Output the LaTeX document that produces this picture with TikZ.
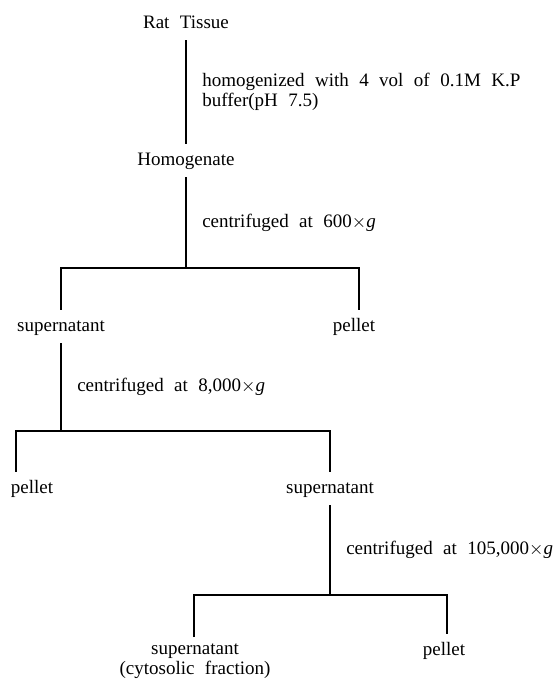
\documentclass[tikz,border=0pt]{standalone}
\usepackage{fontspec}
\setmainfont{Liberation Serif}[WordSpace=2.2]

\begin{document}
\begin{tikzpicture}[x=0.5pt, y=-0.5pt, line width=0.6pt,
    every node/.style={font=\fontsize{9.5}{11}\selectfont},
    stage/.style={anchor=base, text height=0.7em, text depth=0.25em},
    steplabel/.style={anchor=west, xshift=4.5pt, align=left}]

\useasboundingbox (0,0) rectangle (559,687);

% --- 1. STAGES (fractions) ---
\node[stage] (rat)   at (186,28)  {Rat Tissue};
\node[stage] (homog) at (186,165) {Homogenate};

\node[stage] (sup_a) at (61,331)  {supernatant};
\node[stage] (pel_a) at (354,331) {pellet};

\node[stage] (pel_b) at (32,493)  {pellet};
\node[stage] (sup_b) at (330,493) {supernatant};

\node[anchor=north, align=center, font=\fontsize{9.5}{10}\selectfont] (sup_c) at (195,637)
    {supernatant\\(cytosolic fraction)};
\node[stage] (pel_c) at (444,655) {pellet};

% --- 2. SPLIT BARS ---
\coordinate (stem_a)      at (186,268);
\coordinate (bar_a_left)  at (61,268);
\coordinate (bar_a_right) at (359,268);

\coordinate (stem_b)      at (61,431);
\coordinate (bar_b_left)  at (16,431);
\coordinate (bar_b_right) at (330,431);

\coordinate (stem_c)      at (330,595);
\coordinate (bar_c_left)  at (194,595);
\coordinate (bar_c_right) at (447,595);

% --- 3. PROCESSING STEPS ---
\draw (rat) -- node[steplabel, font=\fontsize{9.5}{10}\selectfont]
    {homogenized with 4 vol of 0.1M K.P\\buffer(pH 7.5)} (homog);

\draw (homog) -- node[steplabel] {centrifuged at 600$\times$\textit{g}} (stem_a);
\draw (sup_a) -- node[steplabel] {centrifuged at 8,000$\times$\textit{g}} (stem_b);
\draw (sup_b) -- node[steplabel] {centrifuged at 105,000$\times$\textit{g}} (stem_c);

% --- 4. BRANCHES ---
\draw (sup_a.north -| bar_a_left) -- (bar_a_left) -- (bar_a_right) -- (pel_a.north -| bar_a_right);
\draw (pel_b.north -| bar_b_left) -- (bar_b_left) -- (bar_b_right) -- (sup_b.north -| bar_b_right);
\draw (sup_c.north -| bar_c_left) -- (bar_c_left) -- (bar_c_right) -- (pel_c.north -| bar_c_right);

\end{tikzpicture}
\end{document}
